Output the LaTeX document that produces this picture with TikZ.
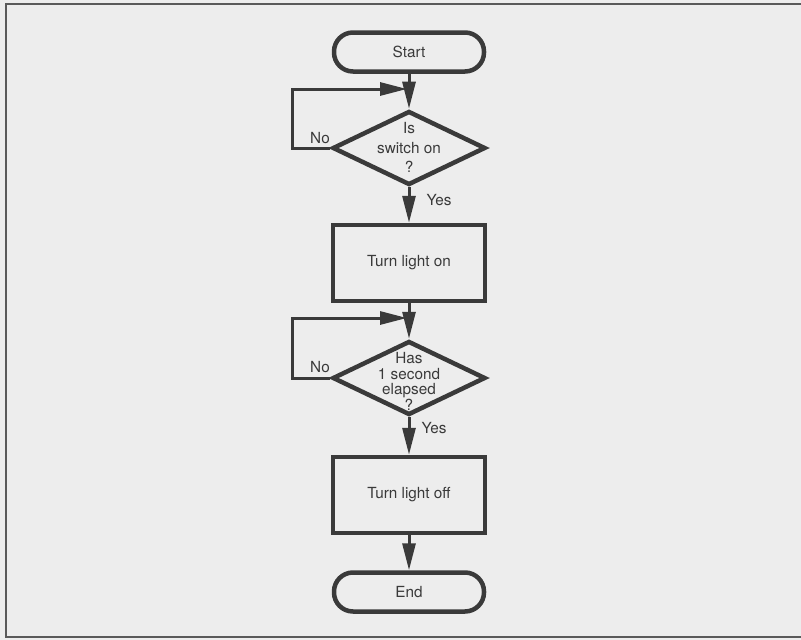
\documentclass[tikz,border=0pt]{standalone}
\usepackage{fontspec}
\setmainfont{TeX Gyre Heros}
\usetikzlibrary{shapes.geometric,arrows.meta}
\definecolor{ink}{HTML}{3A3A3A}
\definecolor{paper}{HTML}{EDEDED}
\definecolor{framec}{HTML}{5A5A5A}
\begin{document}
\begin{tikzpicture}[x=1pt,y=-1pt,
  shapeline/.style={draw=ink,line width=4.5pt},
  term/.style={shapeline,rectangle,rounded corners=19pt,minimum width=150pt,minimum height=39pt,inner sep=0pt},
  procbox/.style={shapeline,rectangle,minimum width=152pt,minimum height=76pt,inner sep=0pt},
  decision/.style={shapeline,diamond,minimum width=153pt,minimum height=74pt,inner sep=0pt},
  txt/.style={text=ink,font=\fontsize{15.3}{17}\selectfont,inner sep=0pt,align=center},
  conn/.style={draw=ink,line width=3pt,-{Triangle[length=27pt,width=13pt]}},
  plain/.style={draw=ink,line width=3pt}]
\useasboundingbox (0,0) rectangle (801,640);
\fill[paper] (0,0) rectangle (801,640);
\draw[framec,line width=2.5pt] (801,4) -- (6,4) -- (6,637) -- (801,637);
% nodes
\node[term] (start) at (409,52) {};
\node[txt] (starttxt) at (409,52) {Start};
\node[decision] (d1) at (409,148) {};
\node[txt,font=\fontsize{15.3}{19.5}\selectfont] (d1txt) at (409,147.5) {Is\\switch on\\?};
\node[procbox] (b1) at (409,263) {};
\node[txt] (b1txt) at (409,263) {Turn light on};
\node[decision] (d2) at (409,378) {};
\node[txt,font=\fontsize{15.3}{15.5}\selectfont] (d2txt) at (409,381.5) {Has\\1 second\\elapsed\\?};
\node[procbox] (b2) at (409,495) {};
\node[txt] (b2txt) at (409,495) {Turn light off};
\node[term] (end) at (409,592) {};
\node[txt] (endtxt) at (409,592) {End};
% junctions
\coordinate (j1) at (407,89);
\coordinate (j2) at (407,318);
% connectors
\draw[conn] (start) -- (d1);
\draw[conn] (d1.west) -- ++(-38,0) |- (j1);
\draw[conn] (d1) -- (b1);
\draw[conn] (b1) -- (d2);
\draw[conn] (d2.west) -- ++(-38,0) |- (j2);
\draw[conn] (d2) -- (b2);
\draw[conn] (b2) -- (end);
% labels
\node[txt] (no1) at (320,138) {No};
\node[txt] (yes1) at (439,200) {Yes};
\node[txt] (no2) at (320,367) {No};
\node[txt] (yes2) at (434,428) {Yes};
\end{tikzpicture}
\end{document}
